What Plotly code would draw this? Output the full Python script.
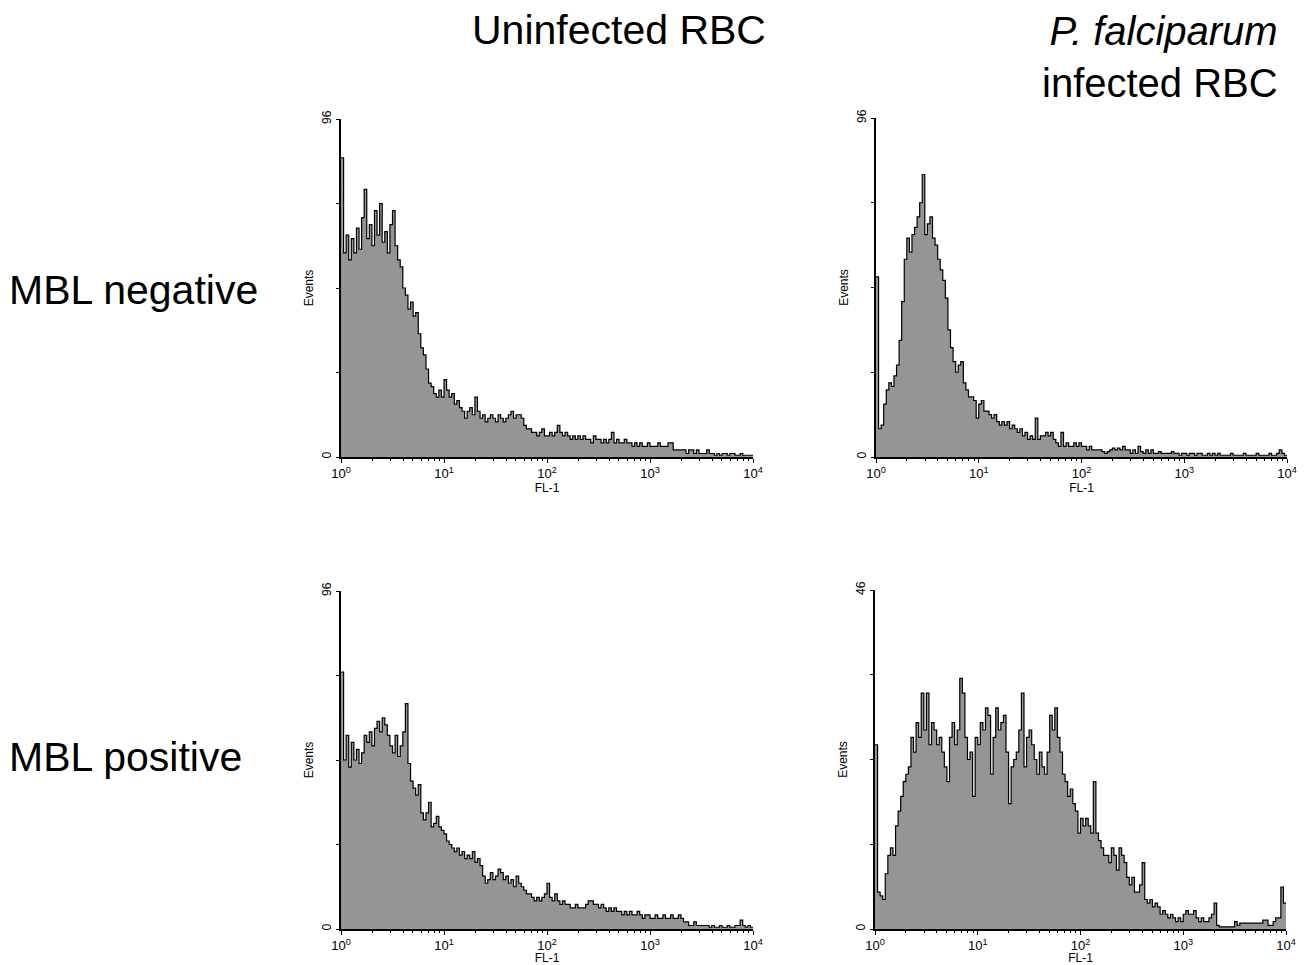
import plotly.graph_objects as go

# ---- channel axis: 40 channels per decade, 10^0 .. 10^4 ----
CH_PER_DECADE = 40

# ---- histogram counts (Events) ----
uninf_mbl_neg = [85, 58, 63, 56, 62, 58, 65, 59, 68, 76, 62, 66, 60, 70, 63, 72, 61, 64, 58, 66,
                 70, 60, 56, 54, 48, 46, 42, 44, 40, 41, 35, 31, 29, 25, 21, 20, 18, 17, 19, 17,
                 22, 19, 17, 18, 15, 16, 14, 13, 11, 13, 14, 12, 17, 13, 11, 12, 10, 11, 12, 11,
                 10, 12, 11, 10, 11, 12, 13, 11, 12, 12, 11, 9, 8, 8, 7, 7, 6, 7, 8, 6,
                 6, 7, 6, 7, 9, 7, 6, 7, 6, 5, 6, 5, 6, 5, 6, 5, 5, 4, 6, 5,
                 5, 4, 5, 4, 5, 7, 4, 5, 4, 4, 5, 4, 4, 3, 4, 3, 4, 3, 3, 4,
                 3, 3, 3, 4, 3, 3, 3, 4, 4, 2, 2, 2, 2, 2, 1, 2, 2, 1, 2, 1,
                 1, 1, 2, 1, 1, 0.5, 1, 0.5, 1, 1, 0.5, 1, 1, 0.5, 0.5, 1, 0.5, 0.5, 0.5, 0.5]

pf_mbl_neg = [51, 8, 9, 15, 19, 21, 20, 23, 26, 33, 44, 56, 62, 58, 63, 65, 68, 72, 80, 63,
              66, 68, 62, 60, 56, 53, 50, 45, 36, 31, 27, 24, 26, 27, 21, 19, 17, 17, 16, 11,
              15, 16, 13, 13, 12, 11, 12, 10, 9, 10, 9, 10, 8, 9, 8, 7, 8, 6, 7, 5,
              6, 5, 11, 5, 6, 6, 7, 6, 7, 5, 4, 3, 7, 3, 4, 3, 3, 4, 3, 4,
              3, 3, 2, 3, 2, 2, 2, 2, 1.5, 1, 1.5, 2, 2.5, 2, 2.5, 2, 3, 2, 2, 1,
              2, 1, 3, 1.5, 1, 2, 1, 2, 1, 1, 1.5, 1, 1, 1, 1, 1.5, 1, 1, 0.5, 1,
              1, 0.5, 1, 1, 0.5, 1, 1, 0.5, 0.5, 1, 0.5, 1, 0.5, 1, 0.5, 0.5, 0.5, 0.5, 1, 0.5,
              0.5, 0.5, 0.5, 1, 0.5, 0.5, 0.5, 0.5, 1, 0.5, 0.5, 0.5, 0.5, 1, 0.5, 0.5, 1, 2, 1, 0.5]

uninf_mbl_pos = [73, 48, 55, 46, 53, 48, 51, 47, 50, 55, 53, 56, 52, 57, 59, 56, 60, 58, 55, 52,
                 50, 55, 49, 52, 56, 64, 47, 42, 40, 38, 41, 33, 31, 33, 36, 29, 30, 32, 29, 28,
                 27, 25, 24, 23, 22, 23, 21, 22, 20, 21, 20, 22, 19, 20, 18, 15, 13, 14, 16, 14,
                 15, 17, 16, 14, 15, 13, 14, 12, 15, 13, 12, 11, 10, 10, 9, 8, 9, 8, 9, 10,
                 13, 9, 8, 10, 8, 7, 8, 7, 7, 6, 6, 7, 6, 6, 6, 7, 8, 8, 7, 7,
                 6, 7, 6, 5, 6, 5, 6, 5, 5, 4, 5, 4, 5, 4, 4, 5, 4, 3, 4, 4,
                 3, 3, 4, 3, 3, 4, 3, 3, 4, 3, 3, 4, 3, 2, 2, 1, 1, 2, 1, 1,
                 1, 1, 1, 0.5, 1, 0.5, 0.5, 1, 0.5, 0.5, 1, 0.5, 0.5, 1, 1, 2.5, 1, 0.5, 1, 0.5]

pf_mbl_pos = [25, 5, 4.5, 4, 7.5, 10, 11, 10, 14, 16, 18, 20, 21, 22, 26, 24, 28, 26, 32, 27,
              32, 25, 28, 27, 25, 26, 24, 22, 20, 26, 28, 25, 27, 34, 32, 26, 23, 24, 18, 26,
              25, 28, 27, 30, 29, 21, 26, 30, 27, 28, 29, 24, 17, 22, 23, 24, 27, 32, 22, 26,
              27, 25, 23, 21, 24, 22, 21, 24, 29, 27, 30, 26, 24, 21, 20, 18, 19, 17, 16, 13,
              15, 14, 15, 14, 13, 20, 13, 12, 11, 10, 10, 9, 11, 10, 8, 11, 10, 9, 7, 6,
              7, 5, 5, 6, 9, 4, 3.5, 4, 3, 3.5, 3, 2, 2.5, 2, 1.5, 2, 1.5, 1, 1.5, 1,
              2, 2.5, 2, 2, 2.5, 1.5, 1, 1.5, 1, 1, 1.5, 2, 3.5, 0.5, 0.3, 0.3, 0.3, 0.3, 0.3, 0.3,
              1, 0.5, 0.8, 0.8, 0.8, 0.8, 0.8, 0.8, 0.8, 0.8, 0.8, 1.2, 1.2, 0.5, 0.5, 1, 1.5, 1.5, 5.7, 3.5]

y_max = [96, 96, 96, 46]
col_titles = ["Uninfected RBC", "<i>P. falciparum</i><br>infected RBC"]
row_titles = ["MBL negative", "MBL positive"]
x_tickvals = [1, 10, 100, 1000, 10000]
x_ticktext = ["10<sup>0</sup>", "10<sup>1</sup>", "10<sup>2</sup>", "10<sup>3</sup>", "10<sup>4</sup>"]

panels = [uninf_mbl_neg, pf_mbl_neg, uninf_mbl_pos, pf_mbl_pos]

# page body adds an 8px margin; work in page pixels and offset
OFF = 8
W, H = 1314 - OFF, 965 - OFF
# panel pixel boxes in the page (left, right, top, bottom)
boxes = [(341, 753, 119, 457), (876, 1287, 118, 457),
         (341, 753, 591, 929), (875, 1286, 590, 929)]


def px(xp):
    return (xp - OFF) / W


def py(yp):
    return 1 - (yp - OFF) / H


FONT = "Liberation Sans, Arial, sans-serif"
fig = go.Figure()

minor_x = [m * 10 ** d for d in range(4) for m in range(2, 10)]

for i, (vals, box) in enumerate(zip(panels, boxes)):
    n = "" if i == 0 else str(i + 1)
    x = [10 ** (k / CH_PER_DECADE) for k in range(len(vals) + 1)]
    y = list(vals) + [vals[-1]]
    fig.add_trace(go.Scatter(
        x=x, y=y, mode="lines", line=dict(color="black", width=1.2, shape="hv"),
        fill="tozeroy", fillcolor="#959595", xaxis="x" + n, yaxis="y" + n,
        showlegend=False, hoverinfo="skip"))
    l, r, t, b = box
    ym = y_max[i]
    fig.layout["xaxis" + n] = dict(
        type="log", range=[0, 4], domain=[px(l), px(r)], anchor="y" + n, automargin=False,
        tickvals=x_tickvals, ticktext=x_ticktext, ticks="outside", ticklen=4,
        tickwidth=1, tickcolor="black", showline=True, linecolor="black", linewidth=1.5,
        showgrid=False, zeroline=False, tickfont=dict(family=FONT, size=13, color="black"),
        title=dict(text="FL-1", font=dict(family=FONT, size=12, color="black"), standoff=2),
        minor=dict(tickmode="array", tickvals=minor_x, ticks="outside", ticklen=2,
                   tickcolor="black", tickwidth=1, showgrid=False))
    fig.layout["yaxis" + n] = dict(
        range=[0, ym], domain=[py(b), py(t)], anchor="x" + n, automargin=False,
        tickvals=[0, ym], ticktext=[str(0), str(ym)], tickangle=-90, ticks="outside",
        ticklen=3, tickwidth=1, tickcolor="black", showline=True, linecolor="black",
        linewidth=1.5, showgrid=False, zeroline=False,
        tickfont=dict(family=FONT, size=12, color="black"),
        title=dict(text="Events", font=dict(family=FONT, size=12, color="black"), standoff=4),
        minor=dict(tickmode="array", tickvals=[ym / 4, ym / 2, 3 * ym / 4], ticks="outside",
                   ticklen=3, tickcolor="black", tickwidth=1, showgrid=False))

ann = []
ann.append(dict(text=col_titles[0], x=px(619), y=py(30), xref="paper", yref="paper",
                xanchor="center", yanchor="middle", showarrow=False,
                font=dict(family=FONT, size=41, color="black")))
ann.append(dict(text=col_titles[1], x=px(1280), y=py(57), xref="paper", yref="paper",
                xanchor="right", yanchor="middle", align="right", showarrow=False,
                font=dict(family=FONT, size=40, color="black")))
ann.append(dict(text=row_titles[0], x=px(7), y=py(290), xref="paper", yref="paper",
                xanchor="left", yanchor="middle", showarrow=False,
                font=dict(family=FONT, size=41, color="black")))
ann.append(dict(text=row_titles[1], x=px(7), y=py(757), xref="paper", yref="paper",
                xanchor="left", yanchor="middle", showarrow=False,
                font=dict(family=FONT, size=41, color="black")))

fig.update_layout(width=W, height=H, margin=dict(l=0, r=0, t=0, b=0, autoexpand=False),
                  paper_bgcolor="white", plot_bgcolor="white", annotations=ann)

fig.write_html("out.html")
